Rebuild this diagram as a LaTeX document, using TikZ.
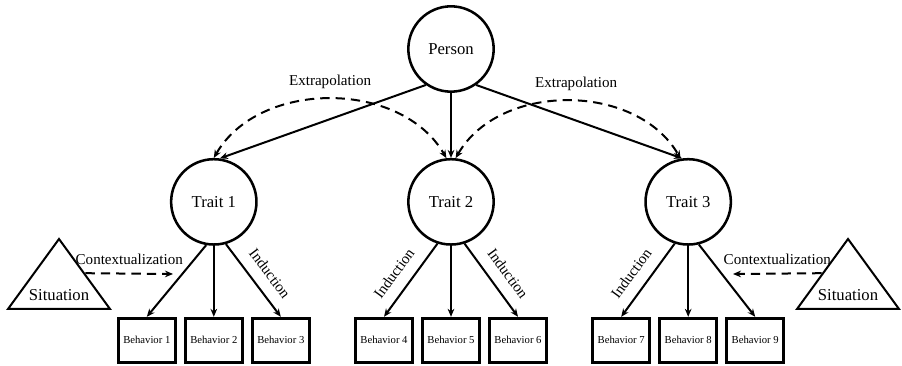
\documentclass[tikz,border=0pt]{standalone}
\usepackage{fontspec}
\setmainfont{Liberation Serif}
\usetikzlibrary{positioning,arrows.meta,shapes.geometric}

\begin{document}
\begin{tikzpicture}[
    x=0.75pt, y=-0.75pt,
    node distance=48.75pt,
    latent/.style={
        draw,
        circle,
        line width=1.9pt,
        minimum size=64pt,
        inner sep=0pt,
        font=\fontsize{12.5}{15}\selectfont
    },
    box/.style={
        draw,
        rectangle,
        line width=2.25pt,
        minimum width=42.75pt,
        minimum height=33pt,
        inner sep=0pt,
        font=\fontsize{8}{10}\selectfont
    },
    situ/.style={
        draw,
        isosceles triangle,
        shape border rotate=90,
        isosceles triangle stretches,
        minimum width=76.5pt,
        minimum height=52.5pt,
        line width=1.5pt,
        inner sep=0pt
    },
    lbl/.style={font=\fontsize{11.3}{13}\selectfont},
    arrow/.style={-{Stealth[length=6pt,width=5pt]}, line width=1.5pt},
    dasharrow/.style={arrow, dash pattern=on 7pt off 4.5pt}
]
\useasboundingbox (0,0) rectangle (902,366);

\node[latent] (person) at (451,49) {Person};

\node[latent, below=of person] (trait2) {Trait 2};
\node[latent, left=112pt of trait2] (trait1) {Trait 1};
\node[latent, right=112pt of trait2] (trait3) {Trait 3};

\node[box, below=53.25pt of trait1] (beh2) {Behavior 2};
\node[box, left=5.25pt of beh2] (beh1) {Behavior 1};
\node[box, right=5.25pt of beh2] (beh3) {Behavior 3};

\node[box, below=53.25pt of trait2] (beh5) {Behavior 5};
\node[box, left=5.25pt of beh5] (beh4) {Behavior 4};
\node[box, right=5.25pt of beh5] (beh6) {Behavior 6};

\node[box, below=53.25pt of trait3] (beh8) {Behavior 8};
\node[box, left=5.25pt of beh8] (beh7) {Behavior 7};
\node[box, right=5.25pt of beh8] (beh9) {Behavior 9};

% situations
\node[situ, anchor=lower side] (sitL) at (59,310) {};
\node[font=\fontsize{12.5}{15}\selectfont] (sitLtext) at ([yshift=11.25pt]sitL.lower side) {Situation};
\node[situ, anchor=lower side] (sitR) at (848,310) {};
\node[font=\fontsize{12.5}{15}\selectfont] (sitRtext) at ([yshift=11.25pt]sitR.lower side) {Situation};

\coordinate (ctxL) at (173,274);
\coordinate (ctxR) at (733,274);

% person to traits
\draw[arrow] (person.-125) -- (trait1.82);
\draw[arrow] (person.south) -- (trait2.north);
\draw[arrow] (person.-55) -- (trait3.98);

% extrapolation
\draw[dasharrow, {Stealth[length=6pt,width=5pt]}-{Stealth[length=6pt,width=5pt]}]
    (trait1.north) to[out=60, in=120]
    node[lbl, above=4pt] {Extrapolation} (trait2.96);
\draw[dasharrow, {Stealth[length=6pt,width=5pt]}-{Stealth[length=6pt,width=5pt]}]
    (trait2.84) to[out=60, in=120]
    node[lbl, above=4pt, xshift=6pt] {Extrapolation} (trait3.100);

% traits to behaviors
\draw[arrow] (trait1.-100) -- (beh1.north);
\draw[arrow] (trait1.south) -- (beh2.north);
\draw[arrow] (trait1.-74) -- node[lbl, sloped, above=5pt, pos=.55] {Induction} (beh3.north);

\draw[arrow] (trait2.-108) -- node[lbl, sloped, above=5pt, pos=.55] {Induction} (beh4.north);
\draw[arrow] (trait2.south) -- (beh5.north);
\draw[arrow] (trait2.-72) -- node[lbl, sloped, above=5pt, pos=.55] {Induction} (beh6.north);

\draw[arrow] (trait3.-108) -- node[lbl, sloped, above=5pt, pos=.55] {Induction} (beh7.north);
\draw[arrow] (trait3.south) -- (beh8.north);
\draw[arrow] (trait3.-76) -- (beh9.north);

% contextualization
\draw[dasharrow] (sitL.right side) -- node[lbl, above=2.5pt] {Contextualization} (ctxL);
\draw[dasharrow] (sitR.left side) -- node[lbl, above=2.5pt] {Contextualization} (ctxR);

\end{tikzpicture}
\end{document}
